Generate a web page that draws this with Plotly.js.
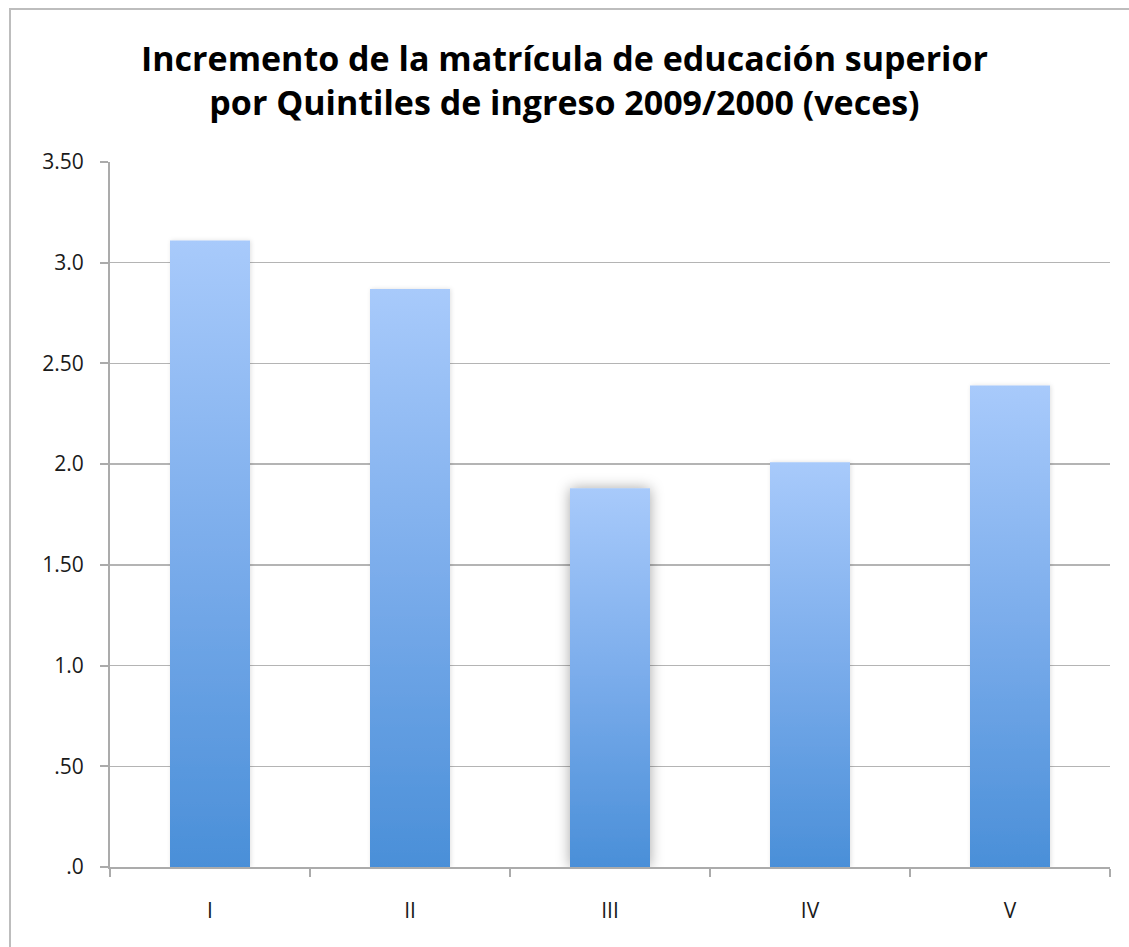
<!DOCTYPE html>
<html>
<head>
<meta charset="utf-8">
<script src="https://cdn.plot.ly/plotly-3.0.1.min.js"></script>
<style>
  html, body { margin: 0; padding: 0; background: #fff; }
  #chart { width: 1129px; height: 947px; position: relative; }
  #frame { position: absolute; left: 9px; top: 8px; width: 1200px; height: 1000px;
           border: 2px solid #bdbdbd; pointer-events: none; box-sizing: border-box; }
  #wrap { position: relative; width: 1129px; height: 947px; overflow: hidden; }
</style>
</head>
<body>
<div id="wrap">
  <div id="chart"></div>
  <div id="frame"></div>
</div>
<script>
const categories = ["I", "II", "III", "IV", "V"];
const values = [3.11, 2.87, 1.88, 2.01, 2.39];
const yTickVals = [0, 0.5, 1.0, 1.5, 2.0, 2.5, 3.0, 3.5];
const yTickText = [".0", ".50", "1.0", "1.50", "2.0", "2.50", "3.0", "3.50"];
const titleText = "Incremento de la matrícula de educación superior<br>por Quintiles de ingreso 2009/2000 (veces)";

const trace = {
  type: "bar",
  x: categories,
  y: values,
  width: 0.4,
  marker: { color: "#78aaea", line: { width: 0 } },
  hoverinfo: "x+y"
};

const layout = {
  width: 1129,
  height: 947,
  margin: { l: 110, r: 19, t: 162, b: 80 },
  paper_bgcolor: "rgba(0,0,0,0)",
  plot_bgcolor: "rgba(0,0,0,0)",
  showlegend: false,
  font: { family: "Open Sans, sans-serif", color: "#1a1a1a", size: 21 },
  title: {
    text: titleText,
    x: 0.5, xref: "container",
    xanchor: "center",
    y: 0.925, yref: "container", yanchor: "top",
    font: { family: "Open Sans, sans-serif", size: 34, color: "#000", weight: 700 }
  },
  xaxis: {
    type: "category",
    showline: true, linecolor: "#ababab", linewidth: 2,
    ticks: "outside", tickson: "boundaries", ticklen: 8, tickcolor: "#ababab", tickwidth: 2,
    showgrid: false,
    tickfont: { size: 21, color: "#1a1a1a" },
    ticklabelstandoff: 24,
    range: [-0.5, 4.5]
  },
  yaxis: {
    range: [0, 3.5],
    tickvals: yTickVals,
    ticktext: yTickText,
    showline: true, linecolor: "#ababab", linewidth: 2,
    ticks: "outside", ticklen: 8, tickcolor: "#ababab", tickwidth: 2,
    showgrid: true, gridcolor: "#b4b4b4", gridwidth: 1.5,
    zeroline: false,
    tickfont: { size: 21, color: "#1a1a1a" },
    ticklabelstandoff: 12
  },
  bargap: 0.6
};

function applyGradient(gd) {
  const svg = gd.querySelector("svg.main-svg");
  if (!svg) return;
  let defs = svg.querySelector("defs");
  if (!defs) {
    defs = document.createElementNS("http://www.w3.org/2000/svg", "defs");
    svg.insertBefore(defs, svg.firstChild);
  }
  if (!svg.querySelector("#barGrad")) {
    const ns = "http://www.w3.org/2000/svg";
    const grad = document.createElementNS(ns, "linearGradient");
    grad.setAttribute("id", "barGrad");
    grad.setAttribute("x1", "0"); grad.setAttribute("y1", "0");
    grad.setAttribute("x2", "0"); grad.setAttribute("y2", "1");
    [["0", "#a8cafb"], ["0.5", "#7aaceb"], ["1", "#4a8fd8"]].forEach(function (s) {
      const st = document.createElementNS(ns, "stop");
      st.setAttribute("offset", s[0]);
      st.setAttribute("stop-color", s[1]);
      grad.appendChild(st);
    });
    defs.appendChild(grad);

    const f = document.createElementNS(ns, "filter");
    f.setAttribute("id", "barShadow");
    f.setAttribute("x", "-50%"); f.setAttribute("y", "-20%");
    f.setAttribute("width", "200%"); f.setAttribute("height", "140%");
    const ds = document.createElementNS(ns, "feDropShadow");
    ds.setAttribute("dx", "0"); ds.setAttribute("dy", "0");
    ds.setAttribute("stdDeviation", "7");
    ds.setAttribute("flood-color", "#000");
    ds.setAttribute("flood-opacity", "0.35");
    f.appendChild(ds);
    defs.appendChild(f);

    const f2 = document.createElementNS(ns, "filter");
    f2.setAttribute("id", "barShadowSoft");
    f2.setAttribute("x", "-50%"); f2.setAttribute("y", "-20%");
    f2.setAttribute("width", "200%"); f2.setAttribute("height", "140%");
    const ds2 = document.createElementNS(ns, "feDropShadow");
    ds2.setAttribute("dx", "1"); ds2.setAttribute("dy", "0");
    ds2.setAttribute("stdDeviation", "2");
    ds2.setAttribute("flood-color", "#000");
    ds2.setAttribute("flood-opacity", "0.12");
    f2.appendChild(ds2);
    defs.appendChild(f2);
  }
  const paths = gd.querySelectorAll(".barlayer .point path");
  paths.forEach(function (p, i) {
    p.style.fill = "url(#barGrad)";
    p.style.fillOpacity = "1";
    p.setAttribute("filter", i === 2 ? "url(#barShadow)" : "url(#barShadowSoft)");
  });
}

const gd = document.getElementById("chart");
Plotly.newPlot(gd, [trace], layout, { displayModeBar: false, staticPlot: true }).then(function () {
  applyGradient(gd);
  gd.on("plotly_afterplot", function () { applyGradient(gd); });
});
</script>
</body>
</html>
